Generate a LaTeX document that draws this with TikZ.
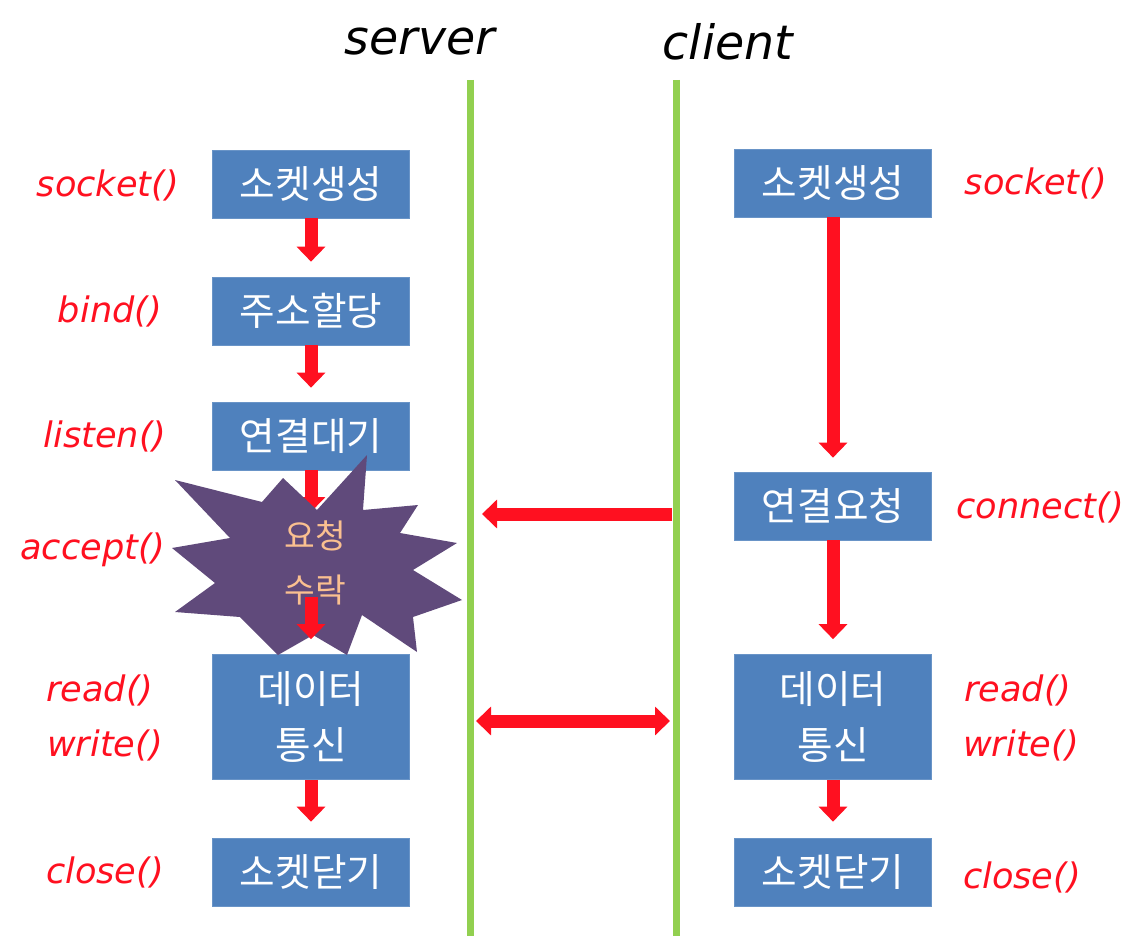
\documentclass[tikz,border=0pt]{standalone}
\usepackage{fontspec}
\setmainfont{DejaVu Sans}
\newfontfamily\krfont{Noto Sans CJK KR}
\usetikzlibrary{arrows.meta,positioning}

\definecolor{boxblue}{HTML}{4F81BD}
\definecolor{linegreen}{HTML}{92D050}
\definecolor{starpurple}{HTML}{604A7B}
\definecolor{peach}{HTML}{FAC090}
\definecolor{fnred}{HTML}{FF1020}

\tikzset{
  stepbox/.style={fill=boxblue, draw=boxblue!85!white, text=white,
    minimum width=3.94cm, minimum height=1.36cm, inner sep=0pt,
    align=center, font=\krfont\fontsize{22}{32}\selectfont},
  fname/.style={text=fnred, font=\itshape\fontsize{20}{24}\selectfont},
  side/.style={font=\itshape\fontsize{27}{30}\selectfont},
  lifeline/.style={linegreen, line width=0.14cm},
  flow/.style={fnred, line width=0.26cm,
    -{Triangle[width=0.56cm,length=0.3cm]}},
}

\begin{document}
\begin{tikzpicture}[x=0.02cm,y=-0.02cm]
    \useasboundingbox (0,0) rectangle (1146,936);

    % lifelines
    \node[side] (srv) at (420,42) {server};
    \node[side] (cli) at (728,42) {client};
    \path (470,80) coordinate (srvtop) (470,936) coordinate (srvbot);
    \path (676,80) coordinate (clitop) (676,936) coordinate (clibot);
    \draw[lifeline] (srvtop) -- (srvbot);
    \draw[lifeline] (clitop) -- (clibot);

    % server
    \node[stepbox] (s1) at (311,184) {소켓생성};
    \node[stepbox] (s2) at (311,311) {주소할당};
    \node[stepbox] (s3) at (311,436) {연결대기};
    \node[stepbox, minimum height=2.5cm] (s4) at (311,717) {데이터\\통신};
    \node[stepbox] (s5) at (311,872) {소켓닫기};
    \node[fname] (fs1) at (108,185) {socket()};
    \node[fname] (fs2) at (110,311) {bind()};
    \node[fname] (fs3) at (105,436) {listen()};
    \node[fname] (fs4) at (93,550) {accept()};
    \node[fname] (fs5) at (100,690) {read()};
    \node[fname] (fs6) at (105,745) {write()};
    \node[fname] (fs7) at (105,872) {close()};
    \draw[flow, shorten >=0.3cm] (s1) -- (s2);
    \draw[flow, shorten >=0.28cm] (s2) -- (s3);
    \path (311,512) coordinate (acctop) (311,597) coordinate (accbot);
    \draw[flow] (s3) -- (acctop);

    % accept star
    \fill[starpurple] (172,548) -- (230,538) -- (175,480) -- (262,502)
      -- (283,478) -- (317,510) -- (367,455) -- (363,510) -- (418,505)
      -- (400,533) -- (457,543) -- (413,570) -- (462,600) -- (413,617)
      -- (417,652) -- (362,615) -- (347,655) -- (313,635) -- (278,655)
      -- (240,617) -- (175,612) -- (215,583) -- cycle;
    \node[text=peach, align=center, font=\krfont\fontsize{19}{31}\selectfont]
      (acc) at (315,563) {요청\\수락};
    \draw[flow, shorten >=0.3cm] (accbot) -- (s4);
    \draw[flow, shorten >=0.32cm] (s4) -- (s5);

    % client
    \node[stepbox] (c1) at (833,183) {소켓생성};
    \node[stepbox] (c2) at (833,506) {연결요청};
    \node[stepbox, minimum height=2.5cm] (c3) at (833,717) {데이터\\통신};
    \node[stepbox] (c4) at (833,872) {소켓닫기};
    \node[fname] (fc1) at (1036,183) {socket()};
    \node[fname] (fc2) at (1040,507) {connect()};
    \node[fname] (fc3) at (1018,690) {read()};
    \node[fname] (fc4) at (1021,745) {write()};
    \node[fname] (fc5) at (1022,877) {close()};
    \draw[flow, shorten >=0.28cm] (c1) -- (c2);
    \draw[flow, shorten >=0.3cm] (c2) -- (c3);
    \draw[flow, shorten >=0.32cm] (c3) -- (c4);

    % messages
    \path (672,514) coordinate (creq) (482,514) coordinate (sreq);
    \path (476,721) coordinate (sdata) (670,721) coordinate (cdata);
    \draw[flow] (creq) -- (sreq);
    \draw[flow, {Triangle[width=0.56cm,length=0.3cm]}-{Triangle[width=0.56cm,length=0.3cm]}]
      (sdata) -- (cdata);
\end{tikzpicture}
\end{document}
